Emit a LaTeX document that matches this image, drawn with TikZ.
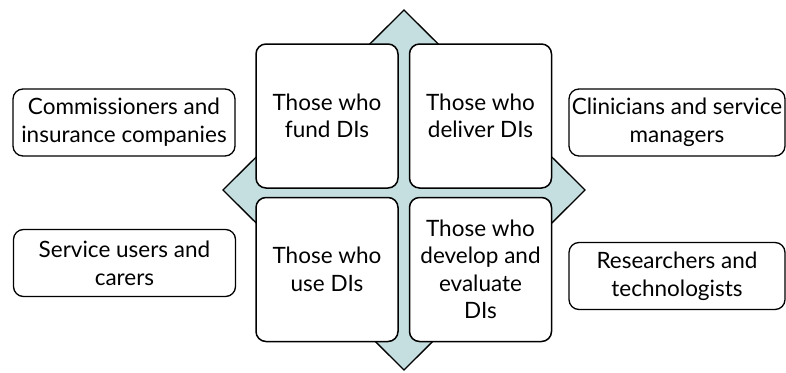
\documentclass[tikz,border=0pt]{standalone}
\usepackage{fontspec}
\setmainfont{Lato}
\usetikzlibrary{positioning}
\definecolor{diafill}{HTML}{C5DFE0}
\begin{document}
\begin{tikzpicture}[x=1pt,y=-1pt,
  quad/.style={draw=black,line width=1.5pt,fill=white,rounded corners=10pt,
    minimum width=142pt,minimum height=144pt,inner sep=0pt,align=center,
    font=\fontsize{22.5}{27.5}\selectfont},
  side/.style={draw=black,line width=1.3pt,fill=white,rounded corners=10pt,
    minimum width=222pt,minimum height=67pt,inner sep=0pt,align=center,
    font=\fontsize{22.5}{28}\selectfont}]
\useasboundingbox (0,0) rectangle (786,372);
\draw[line width=1.3pt,fill=diafill] (404,10) coordinate (top) -- (585,190) coordinate (right) -- (404,370) coordinate (bot) -- (223,190) coordinate (left) -- cycle;
\node[quad] (tl) at (327,116) {Those who\\fund DIs};
\node[quad] (tr) at (480.5,116) {Those who\\deliver DIs};
\node[quad] (bl) at (327,269.5) {Those who\\use DIs};
\node[quad] (br) at (480.5,269.5) {Those who\\develop and\\evaluate\\DIs};
\node[side] (comm) at (124,122.5) {Commissioners and\\insurance companies};
\node[side,minimum width=216pt] (clin) at (677,122.5) {Clinicians and service\\managers};
\node[side] (serv) at (124.5,263) {Service users and\\carers};
\node[side,minimum width=216pt] (res) at (677,276) {Researchers and\\technologists};
\end{tikzpicture}
\end{document}
